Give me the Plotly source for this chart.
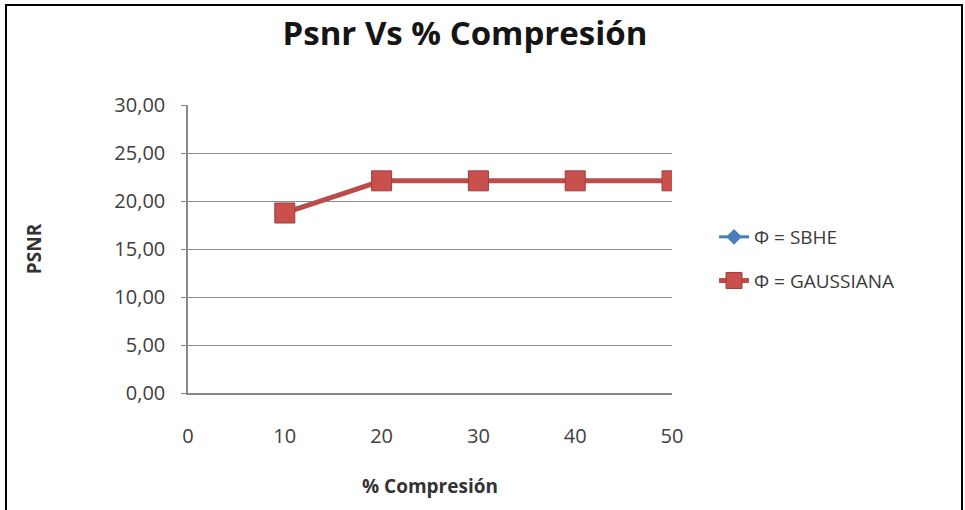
import plotly.graph_objects as go

x_vals = [10, 20, 30, 40, 50]
sbhe = [18.9, 22.1, 22.1, 22.1, 22.1]
gaussiana = [18.75, 22.1, 22.1, 22.1, 22.1]
y_ticks = [0, 5, 10, 15, 20, 25, 30]
y_labels = ["0,00", "5,00", "10,00", "15,00", "20,00", "25,00", "30,00"]
x_ticks = [0, 10, 20, 30, 40, 50]

L, R, T, B = 188, 672, 105, 393
W, H = 965, 510
FONT = "Open Sans, Lato, sans-serif"

fig = go.Figure()
fig.add_trace(go.Scatter(x=x_vals, y=sbhe, mode="lines+markers", name="Φ = SBHE",
                         legendgroup="a",
                         line=dict(color="#4a7ebb", width=3),
                         marker=dict(symbol="diamond", size=12, color="#4a7ebb")))
fig.add_trace(go.Scatter(x=x_vals, y=gaussiana, mode="lines+markers", name="Φ = GAUSSIANA",
                         legendgroup="b",
                         line=dict(color="#be4b48", width=5),
                         marker=dict(symbol="square", size=20, color="#c8504d",
                                     line=dict(color="#a03c3a", width=1))))

pw, ph = R - L, B - T
def px(x):
    return (x - L) / pw
def py(y):
    return (B - y) / ph

fig.add_shape(type="rect", xref="paper", yref="paper",
              x0=px(6), x1=px(962), y0=py(520), y1=py(5),
              line=dict(color="black", width=2), fillcolor="rgba(0,0,0,0)")

fig.update_layout(
    width=W, height=H,
    margin=dict(l=L, r=W - R, t=T, b=H - B, autoexpand=False),
    paper_bgcolor="white", plot_bgcolor="white",
    font=dict(family=FONT, color="#404040"),
    title=dict(text="<b>Psnr Vs % Compresión</b>", x=465 / W, xanchor="center",
               y=1 - 33 / H, yanchor="middle",
               font=dict(size=33, color="#151515", family=FONT)),
    showlegend=True,
    legend=dict(x=px(714), y=py(218), xanchor="left", yanchor="top",
                font=dict(size=19, color="#3a3a3a"), tracegroupgap=16,
                traceorder="grouped", bgcolor="rgba(0,0,0,0)"),
    xaxis=dict(range=[0, 50], tickvals=x_ticks, ticktext=[str(v) for v in x_ticks],
               automargin=False,
               showgrid=False, showline=True, linecolor="#888", linewidth=1.5,
               ticks="", tickfont=dict(size=20, color="#404040"), ticklabelstandoff=24,
               title=dict(text="<b>% Compresión</b>", font=dict(size=19, color="#333"), standoff=32),
               zeroline=False),
    yaxis=dict(range=[0, 30], tickvals=y_ticks, ticktext=y_labels,
               automargin=False,
               showgrid=True, gridcolor="#8c8c8c", gridwidth=1,
               showline=True, linecolor="#888", linewidth=1.5,
               ticks="outside", ticklen=5, tickcolor="#888",
               tickfont=dict(size=20, color="#404040"), ticklabelstandoff=12,
               title=dict(text="<b>PSNR</b>", font=dict(size=19, color="#333"), standoff=68),
               zeroline=False),
)

fig.write_html("out.html", config={"displayModeBar": False},
               post_script="document.body.style.margin='0';")
